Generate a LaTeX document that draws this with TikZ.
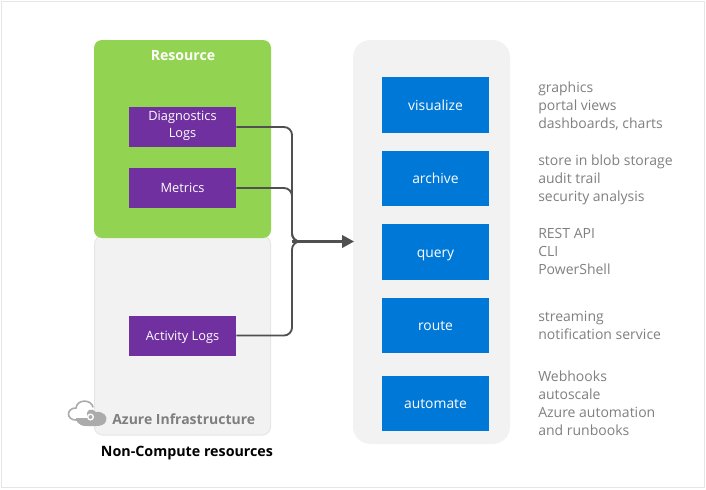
\documentclass[tikz,border=0pt]{standalone}
\usepackage{fontspec}
\setmainfont{Open Sans}
\usetikzlibrary{arrows.meta}
\definecolor{grn}{HTML}{92D451}
\definecolor{pnl}{HTML}{F2F2F2}
\definecolor{pnle}{HTML}{E6E6E6}
\definecolor{purp}{HTML}{7030A0}
\definecolor{blu}{HTML}{0078D7}
\definecolor{cnn}{HTML}{505050}
\definecolor{note}{HTML}{7F7F7F}
\definecolor{icn}{HTML}{ABABAB}
\newcommand{\purpstrut}{\rule[-3.2pt]{0pt}{13.2pt}}
\newcommand{\blustrut}{\rule[-2.8pt]{0pt}{13.8pt}}
\tikzset{
 x=0.75pt,y=-0.75pt,
 sizedbox/.style={minimum width=80.25pt,inner sep=0pt,align=center,text=white},
 purpbox/.style={sizedbox,fill=purp,font=\fontsize{9.6}{13.2}\selectfont,execute at begin node=\purpstrut,execute at end node=\purpstrut},
 blubox/.style={sizedbox,fill=blu,font=\fontsize{10.4}{13}\selectfont,execute at begin node=\blustrut,execute at end node=\blustrut},
 notes/.style={anchor=north west,inner sep=0pt,align=left,text=note,font=\fontsize{10.5}{13.5}\selectfont},
 conn/.style={draw=cnn,line width=1.4pt,rounded corners=6pt},
}
\begin{document}
\begin{tikzpicture}
\useasboundingbox (0,0) rectangle (706,489);
\draw[draw=pnle,line width=0.75pt] (1.5,1.5) rectangle (704.5,487.5);
% containers
\draw[fill=pnl,draw=pnle,line width=0.75pt,rounded corners=6pt] (94.5,236) rectangle (270.5,435);
\fill[grn,rounded corners=6pt] (94,40) rectangle (271,238);
\fill[pnl,rounded corners=13pt] (353,40) rectangle (510,444);
\node[font=\fontsize{10.6}{13}\selectfont\bfseries,text=white] (res) at (183,55.5) {Resource};
% purple boxes
\node[purpbox,minimum height=30pt] (diag) at (182.5,126.5) {Diagnostics\\Logs};
\node[purpbox,minimum height=30pt] (metr) at (182.5,188) {Metrics};
\node[purpbox,minimum height=30pt] (act) at (182.5,335.5) {Activity Logs};
% blue boxes
\node[blubox,minimum height=41.5pt] (vis) at (435.5,105) {visualize};
\node[blubox,minimum height=41.5pt] (arc) at (435.5,178.5) {archive};
\node[blubox,minimum height=41.5pt] (qry) at (435.5,252) {query};
\node[blubox,minimum height=41.5pt] (rte) at (435.5,325.5) {route};
\node[blubox,minimum height=41.5pt] (aut) at (435.5,403.5) {automate};
% connectors
\coordinate (hub) at (292,241.5);
\coordinate (tip) at (354,241.5);
\draw[conn] (diag.east |- 0,127) -- (292,127) -- (292,241.5) -- (300,241.5);
\draw[conn] (metr.east) -- (292,188) -- (292,241.5) -- (300,241.5);
\draw[conn] (act.east) -- (292,335.5) -- (292,241.5) -- (300,241.5);
\draw[draw=cnn,line width=1.6pt,-{Triangle[length=9pt,width=9.5pt]}] (hub) -- (tip);
% notes
\node[notes] (n1) at (538,81.5) {graphics\\portal views\\dashboards, charts};
\node[notes] (n2) at (538,155) {store in blob storage\\audit trail\\security analysis};
\node[notes] (n3) at (538,228) {REST API\\CLI\\PowerShell};
\node[notes] (n4) at (538,310.5) {streaming\\notification service};
\node[notes] (n5) at (538,370.5) {Webhooks\\autoscale\\Azure automation\\and runbooks};
% cloud icon
\draw[draw=icn,line width=1.2pt,fill=white,line cap=round]
  (92,420) -- (76,420) .. controls (66,420) and (66,408) .. (76,408)
  .. controls (77,399) and (91,399) .. (93,407);
\fill[icn] (86,426) .. controls (78,426) and (75,420) .. (76,417)
  -- (88,417) .. controls (84,410) and (92,407) .. (96,412)
  .. controls (104,411) and (108,417) .. (106,421)
  .. controls (105,425) and (100,426) .. (96,426) -- cycle;
\draw[draw=white,line width=1pt] (72,417) -- (88,417);
\draw[draw=white,line width=1pt,fill=icn] (90.5,417) circle (2.8);
\node[anchor=west,inner sep=0pt,text=note,font=\fontsize{10.5}{13}\selectfont\bfseries] (az) at (112,419) {Azure Infrastructure};
\node[inner sep=0pt,text=black,font=\fontsize{10.7}{13}\selectfont\bfseries] (nc) at (187,453) {Non-Compute resources};
\end{tikzpicture}
\end{document}
